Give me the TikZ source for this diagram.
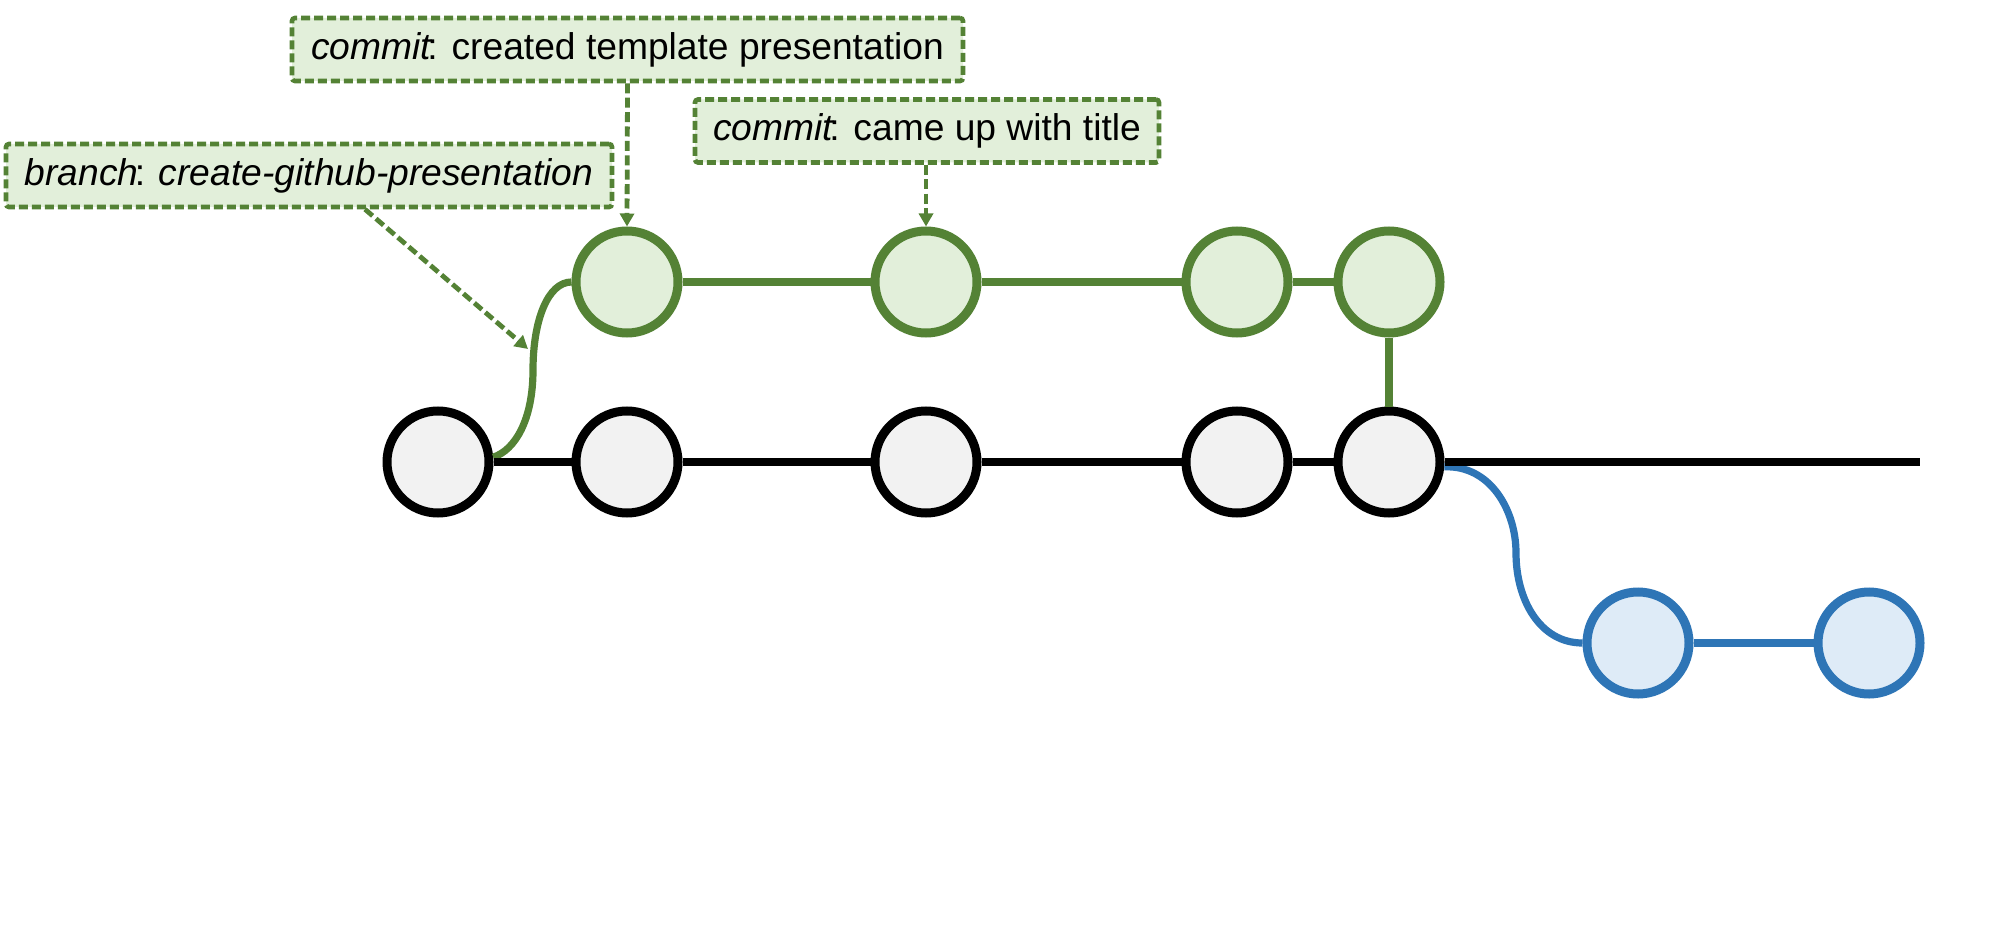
\documentclass[tikz,border=0pt]{standalone}
\usepackage{fontspec}
\setmainfont{Liberation Sans}
\usetikzlibrary{arrows.meta}
\definecolor{grn}{HTML}{548235}
\definecolor{grnfill}{HTML}{E2EFDA}
\definecolor{grayfill}{HTML}{F2F2F2}
\definecolor{blu}{HTML}{2E75B6}
\definecolor{blufill}{HTML}{DEEBF7}
\newcommand{\itw}[1]{{\itshape #1}\kern-1.8pt}
\begin{document}
\begin{tikzpicture}[x=0.5pt,y=-0.5pt,
  gnode/.style={circle,inner sep=0pt,minimum size=51pt,line width=4.5pt,draw=black,fill=grayfill},
  tnode/.style={gnode,draw=grn,fill=grnfill},
  bnode/.style={gnode,draw=blu,fill=blufill},
  lbl/.style={draw=grn,fill=grnfill,line width=2.3pt,dash pattern=on 4.5pt off 2pt,rounded corners=1.5pt,
    inner sep=0pt,minimum height=31.5pt,font=\fontsize{18.6}{22}\selectfont},
  arr/.style={draw=grn,line width=2.4pt,dash pattern=on 5pt off 2.2pt,-{Triangle[length=6.5pt,width=7pt]}},
  thick line/.style={line width=4.2pt},
  thin line/.style={line width=3.6pt}
]
\useasboundingbox (0,0) rectangle (1995,925);

% main branch commits
\node[gnode] (g1) at (438,462) {};
\node[gnode] (g2) at (627,462) {};
\node[gnode] (g3) at (926,462) {};
\node[gnode] (g4) at (1237,462) {};
\node[gnode] (g5) at (1389,462) {};
\coordinate (mainend) at (1920,462);

% feature branch commits
\node[tnode] (t1) at (627,282) {};
\node[tnode] (t2) at (926,282) {};
\node[tnode] (t3) at (1237,282) {};
\node[tnode] (t4) at (1389,282) {};

% blue branch commits
\node[bnode] (b1) at (1638,643) {};
\node[bnode] (b2) at (1869,643) {};

% labels
\node[lbl,minimum width=335.5pt] (l1) at (627.5,49.5) {\itw{commit}: created template presentation};
\node[lbl,minimum width=232pt] (l2) at (927,131) {\itw{commit}: came up with title};
\node[lbl,minimum width=303pt] (l3) at (309,175.5) {\itw{branch}: {\itshape create-github-presentation}};

% curves
\coordinate (gmid) at (533,370);
\draw[grn,thin line] (g1.5) .. controls (515,450) and (533,420) .. (gmid)
  .. controls (533,320) and (548,282) .. (t1.west);
\coordinate (bmid) at (1516,553);
\draw[blu,thin line] (g5.-5) .. controls (1490,465) and (1516,510) .. (bmid)
  .. controls (1516,600) and (1540,643) .. (b1.west);

% main line
\draw[thick line] (g1.east) -- (g2.west) (g2.east) -- (g3.west) (g3.east) -- (g4.west)
  (g4.east) -- (g5.west) (g5.east) -- (mainend);
% green line
\draw[grn,thick line] (t1.east) -- (t2.west) (t2.east) -- (t3.west) (t3.east) -- (t4.west);
\draw[grn,thin line] (t4.south) -- (g5.north);
% blue line
\draw[blu,thick line] (b1.east) -- (b2.west);

% arrows
\coordinate (brtip) at (528,349);
\draw[arr] (l1.south) -- (t1.north);
\draw[arr] (t2.north |- l2.south) -- (t2.north);
\draw[arr] ([xshift=28pt]l3.south) -- (brtip);
\end{tikzpicture}
\end{document}
